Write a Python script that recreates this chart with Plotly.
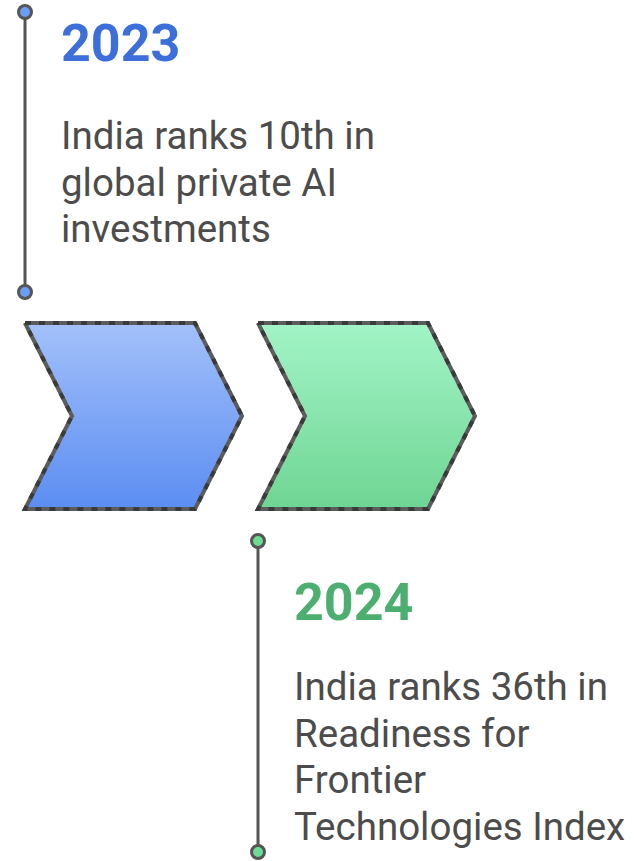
import plotly.graph_objects as go

years = ["2023", "2024"]
descriptions = [
    ["India ranks 10th in", "global private AI", "investments"],
    ["India ranks 36th in", "Readiness for", "Frontier", "Technologies Index"],
]
year_colors = ["#3d6fdb", "#4cae6f"]
dot_colors = ["#6d9cf4", "#6ddb94"]
grad_top = ["#a3c0fa", "#a2f4c6"]
grad_bottom = ["#5b8df2", "#6fd593"]

W, H = 634, 861
step = 233          # horizontal shift between stages
chev_w, chev_tip, chev_top, chev_bot = 170, 47, 323, 509
outline = "#555555"
text_gray = "#4c4c4c"
line_gap = 46.5

fig = go.Figure()

for i, yr in enumerate(years):
    x0 = 25 + i * step
    ymid = (chev_top + chev_bot) / 2
    xs = [x0, x0 + chev_w, x0 + chev_w + chev_tip, x0 + chev_w, x0, x0 + chev_tip, x0]
    ys = [chev_top, chev_top, ymid, chev_bot, chev_bot, ymid, chev_top]
    fig.add_trace(go.Scatter(
        x=xs, y=ys, mode="lines", fill="toself",
        fillgradient=dict(type="vertical", start=chev_top, stop=chev_bot,
                          colorscale=[[0, grad_top[i]], [1, grad_bottom[i]]]),
        line=dict(color="#5c5c5c", width=4), hoverinfo="skip"))
    fig.add_trace(go.Scatter(x=xs, y=ys, mode="lines",
                             line=dict(color="#3a3a3a", width=4, dash="6px,8px"),
                             hoverinfo="skip"))

    # timeline stem: first stage above the chevrons, second below
    if i == 0:
        y_a, y_b = 12, 292
        year_y, desc_y = 43.5, 135.5
    else:
        y_a, y_b = 541, 852
        year_y, desc_y = 602.5, 686.5
    fig.add_trace(go.Scatter(x=[x0, x0], y=[y_a, y_b], mode="lines",
                             line=dict(color=outline, width=3), hoverinfo="skip"))
    fig.add_trace(go.Scatter(x=[x0, x0], y=[y_a, y_b], mode="markers",
                             marker=dict(size=13, color=dot_colors[i],
                                         line=dict(color=outline, width=3)),
                             hoverinfo="skip"))

    tx = x0 + 34
    fig.add_annotation(x=tx, y=year_y, text="<b>%s</b>" % yr, showarrow=False,
                       xanchor="left", yanchor="middle",
                       font=dict(family="Roboto", size=52, color=year_colors[i]))
    for k, ln in enumerate(descriptions[i]):
        fig.add_annotation(x=tx, y=desc_y + k * line_gap, text=ln,
                           showarrow=False, xanchor="left", yanchor="middle",
                           font=dict(family="Roboto", size=38.5, color=text_gray))

fig.update_layout(
    width=W, height=H, margin=dict(l=0, r=0, t=0, b=0),
    plot_bgcolor="white", paper_bgcolor="white", showlegend=False,
    xaxis=dict(range=[0, W], visible=False, fixedrange=True),
    yaxis=dict(range=[H, 0], visible=False, fixedrange=True),
)

fig.write_html("out.html", config={"displayModeBar": False},
               post_script="document.body.style.margin='0';")
